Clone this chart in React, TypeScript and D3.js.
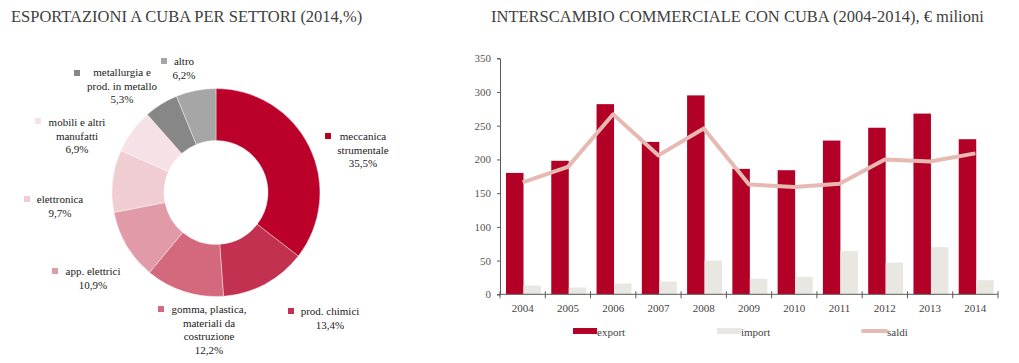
import React, { useEffect, useRef } from 'react';
import * as d3 from 'd3';

// donut data (2014, %)
const sectors = [
  'meccanica strumentale',
  'prod. chimici',
  'gomma, plastica, materiali da costruzione',
  'app. elettrici',
  'elettronica',
  'mobili e altri manufatti',
  'metallurgia e prod. in metallo',
  'altro',
];
const sectorShares = [35.5, 13.4, 12.2, 10.9, 9.7, 6.9, 5.3, 6.2];
const sectorLabels = [
  ['meccanica', 'strumentale', '35,5%'],
  ['prod. chimici', '13,4%'],
  ['gomma, plastica,', 'materiali da', 'costruzione', '12,2%'],
  ['app. elettrici', '10,9%'],
  ['elettronica', '9,7%'],
  ['mobili e altri', 'manufatti', '6,9%'],
  ['metallurgia e', 'prod. in metallo', '5,3%'],
  ['altro', '6,2%'],
];

// bar chart data (€ milioni)
const years = ['2004', '2005', '2006', '2007', '2008', '2009', '2010', '2011', '2012', '2013', '2014'];
const exportValues = [180, 198, 282, 226, 295, 186, 184, 228, 247, 268, 230];
const importValues = [13, 10, 16, 19, 50, 23, 26, 64, 47, 70, 21];
const saldiValues = [166, 189, 267, 206, 246, 163, 159, 164, 200, 197, 209];
const yTicks = [0, 50, 100, 150, 200, 250, 300, 350];

const sectorColors = ['#bb0029', '#c2314f', '#d4687d', '#e19ba8', '#f0cdd3', '#f6e2e6', '#878787', '#a6a6a6'];
// where each donut label sits: text centre x, first line y, marker x/y
const labelLayout = [
  { cx: 363, y: 136, mx: 325, my: 133 },
  { cx: 330, y: 311, mx: 288, my: 308 },
  { cx: 209, y: 309, mx: 158, my: 306 },
  { cx: 93, y: 271, mx: 52, my: 268 },
  { cx: 60, y: 199, mx: 24, my: 196 },
  { cx: 77, y: 122, mx: 35, my: 118 },
  { cx: 122, y: 72, mx: 74, my: 70 },
  { cx: 184, y: 61, mx: 161, my: 58 },
];

const FONT = '"Liberation Serif", "Times New Roman", serif';
const EXPORT_COLOR = '#b30027';
const IMPORT_COLOR = '#e8e7e2';
const SALDI_COLOR = '#e6b9b3';

export default function App() {
  const ref = useRef<SVGSVGElement>(null);

  useEffect(() => {
    const svg = d3.select(ref.current);
    svg.selectAll('*').remove();

    // titles
    const titles = svg.append('g')
      .attr('font-family', FONT).attr('font-size', 16.5).attr('fill', '#404040');
    titles.append('text')
      .attr('x', 11).attr('y', 22)
      .text('ESPORTAZIONI A CUBA PER SETTORI (2014,%)');
    titles.append('text')
      .attr('x', 491).attr('y', 22)
      .text('INTERSCAMBIO COMMERCIALE CON CUBA (2004-2014), € milioni');

    // ---- donut ----
    const pie = d3.pie<number>().sort(null).value(d => d);
    const arc = d3.arc<d3.PieArcDatum<number>>().innerRadius(52).outerRadius(104);
    const donut = svg.append('g').attr('transform', 'translate(216,192.5)');
    donut.selectAll('path')
      .data(pie(sectorShares))
      .enter()
      .append('path')
      .attr('d', arc)
      .attr('fill', (d, i) => sectorColors[i])
      .attr('stroke', '#fff')
      .attr('stroke-width', 0.4);

    const labels = svg.append('g')
      .attr('font-family', FONT).attr('font-size', 11).attr('fill', '#1a1a1a');
    sectors.forEach((s, i) => {
      const l = labelLayout[i];
      labels.append('rect')
        .attr('x', l.mx).attr('y', l.my)
        .attr('width', 6).attr('height', 6)
        .attr('fill', sectorColors[i]);
      sectorLabels[i].forEach((line, j) => {
        labels.append('text')
          .attr('x', l.cx).attr('y', l.y + j * 13.5)
          .attr('text-anchor', 'middle')
          .attr('dominant-baseline', 'central')
          .style('font-family', FONT)
          .text(line);
      });
    });

    // ---- bars ----
    const x = d3.scaleBand().domain(years).range([500, 998]);
    const inner = d3.scaleBand().domain(['export', 'import']).range([6, 41]);
    const y = d3.scaleLinear().domain([0, 350]).range([294.3, 58.3]);

    const chart = svg.append('g');
    chart.selectAll('rect.exp')
      .data(years)
      .enter()
      .append('rect')
      .attr('class', 'exp')
      .attr('x', d => x(d)! + inner('export')!)
      .attr('y', (d, i) => y(exportValues[i]))
      .attr('width', inner.bandwidth())
      .attr('height', (d, i) => y(0) - y(exportValues[i]))
      .attr('fill', EXPORT_COLOR);

    chart.selectAll('rect.imp')
      .data(years)
      .enter()
      .append('rect')
      .attr('class', 'imp')
      .attr('x', d => x(d)! + inner('import')!)
      .attr('y', (d, i) => y(importValues[i]))
      .attr('width', inner.bandwidth())
      .attr('height', (d, i) => y(0) - y(importValues[i]))
      .attr('fill', IMPORT_COLOR);

    const line = d3.line<number>()
      .x((d, i) => x(years[i])! + x.bandwidth() / 2)
      .y(d => y(d));
    chart.append('path')
      .attr('d', line(saldiValues))
      .attr('fill', 'none')
      .attr('stroke', SALDI_COLOR)
      .attr('stroke-width', 4)
      .attr('stroke-linejoin', 'round');

    // y axis
    const yAxis = chart.append('g')
      .attr('transform', 'translate(500,0)')
      .call(d3.axisLeft(y).tickValues(yTicks).tickSize(3).tickPadding(6));
    yAxis.attr('font-family', FONT);
    yAxis.select('.domain').attr('stroke', '#5a5a55');
    yAxis.selectAll('line').attr('stroke', '#5a5a55');
    yAxis.selectAll('text')
      .style('font-family', FONT).attr('font-size', 11).attr('fill', '#555');

    // x axis: ticks on band edges, labels in the middle
    const xAxis = chart.append('g').attr('stroke', '#5a5a55');
    xAxis.append('line')
      .attr('x1', 500).attr('x2', 998)
      .attr('y1', y(0)).attr('y2', y(0));
    [...years.map(d => x(d)!), x.range()[1]].forEach(t => {
      xAxis.append('line')
        .attr('x1', t).attr('x2', t)
        .attr('y1', y(0) - 3).attr('y2', y(0) + 4);
    });
    chart.selectAll('text.year')
      .data(years)
      .enter()
      .append('text')
      .attr('class', 'year')
      .attr('x', d => x(d)! + x.bandwidth() / 2)
      .attr('y', 308)
      .attr('text-anchor', 'middle')
      .attr('dominant-baseline', 'central')
      .style('font-family', FONT)
      .attr('font-size', 11)
      .attr('fill', '#444')
      .text(d => d);

    // legend
    const legend = svg.append('g')
      .attr('font-family', FONT).attr('font-size', 11).attr('fill', '#444');
    legend.append('rect').attr('x', 573).attr('y', 328).attr('width', 24).attr('height', 6).attr('fill', EXPORT_COLOR);
    legend.append('text').attr('x', 597).attr('y', 332).attr('dominant-baseline', 'central').text('export');
    legend.append('rect').attr('x', 717).attr('y', 328).attr('width', 24).attr('height', 6).attr('fill', IMPORT_COLOR);
    legend.append('text').attr('x', 741).attr('y', 332).attr('dominant-baseline', 'central').text('import');
    legend.append('line').attr('x1', 863).attr('x2', 886).attr('y1', 331).attr('y2', 331)
      .attr('stroke', SALDI_COLOR).attr('stroke-width', 4).attr('stroke-linecap', 'round');
    legend.append('text').attr('x', 887).attr('y', 332).attr('dominant-baseline', 'central').text('saldi');
  }, []);

  return (
    <svg
      ref={ref}
      width={1019}
      height={363}
      style={{ position: 'absolute', left: 0, top: 0, background: '#fff' }}
      fontFamily={FONT}
    />
  );
}
